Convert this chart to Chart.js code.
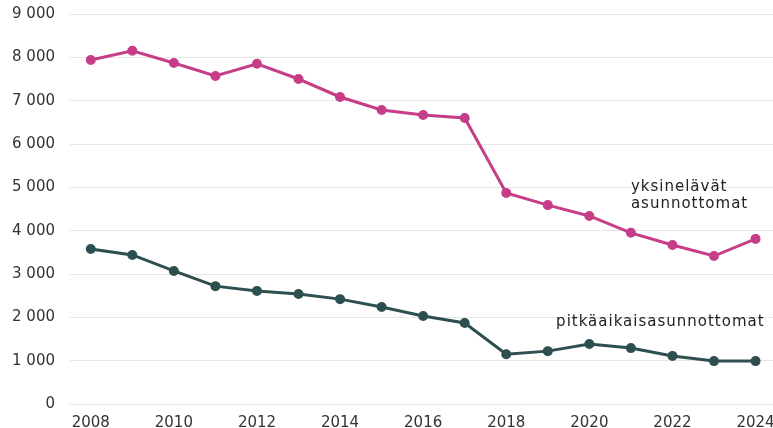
<!DOCTYPE html>
<html>
<head>
<meta charset="utf-8">
<script src="https://cdn.jsdelivr.net/npm/chart.js@4"></script>
<style>
html,body{margin:0;padding:0;background:#fff;}
#wrap{width:773px;height:428px;}
</style>
</head>
<body>
<div id="wrap"><canvas id="c" width="773" height="428"></canvas></div>
<script>
const years = [2008,2009,2010,2011,2012,2013,2014,2015,2016,2017,2018,2019,2020,2021,2022,2023,2024];
const yksinelavat = [7940,8150,7870,7570,7850,7500,7085,6785,6670,6600,4870,4590,4340,3950,3670,3415,3810];
const pitkaaikais = [3577,3440,3070,2720,2610,2540,2420,2240,2030,1870,1150,1220,1385,1290,1110,990,990];
const seriesNames = ['yksinelävät asunnottomat','pitkäaikaisasunnottomat'];
const labelsText = [['yksinelävät','asunnottomat'],['pitkäaikaisasunnottomat']];
const labelAnchors = [[2021.0,5010],[2019.2,1890]];

const pink = '#c63d88';
const dark = '#2e4f4f';
const FONT = '"DejaVu Sans", Verdana, sans-serif';

const labelPlugin = {
  id:'lbl',
  afterDatasetsDraw(chart){
    const {ctx, scales:{x,y}} = chart;
    ctx.save();
    ctx.font = '15px ' + FONT;
    try{ ctx.letterSpacing = '1px'; }catch(e){}
    ctx.fillStyle = '#222';
    ctx.textAlign = 'left';
    ctx.textBaseline = 'middle';
    labelsText.forEach((lines,i)=>{
      const px = x.getPixelForValue(labelAnchors[i][0]);
      const py = y.getPixelForValue(labelAnchors[i][1]);
      lines.forEach((t,j)=>ctx.fillText(t, px, py + j*17));
    });
    ctx.restore();
  }
};

new Chart(document.getElementById('c'),{
  type:'line',
  data:{
    datasets:[
      {label:seriesNames[0], data:years.map((yr,i)=>({x:yr,y:yksinelavat[i]})), borderColor:pink, backgroundColor:pink, borderWidth:3, pointRadius:3.5, pointHoverRadius:3.5, tension:0, clip:false},
      {label:seriesNames[1], data:years.map((yr,i)=>({x:yr,y:pitkaaikais[i]})), borderColor:dark, backgroundColor:dark, borderWidth:3, pointRadius:3.5, pointHoverRadius:3.5, tension:0, clip:false}
    ]
  },
  options:{
    responsive:false,
    animation:false,
    layout:{autoPadding:false,padding:{top:14,right:0,bottom:0,left:0}},
    plugins:{legend:{display:false},tooltip:{enabled:false}},
    scales:{
      x:{type:'linear',min:2007.5,max:2024.42,
        grid:{display:false,drawTicks:false,tickLength:0},border:{display:false},
        afterBuildTicks(ax){ax.ticks = years.filter(v=>v%2===0).map(v=>({value:v}));},
        afterFit(s){s.paddingLeft=0;s.paddingRight=0;s.height=24;},
        ticks:{color:'#333',font:{family:FONT,size:15},callback:v=>String(v),maxRotation:0,padding:10}
      },
      y:{min:0,max:9000,
        grid:{color:'#e6e6e6',lineWidth:1,drawTicks:false},border:{display:false},
        afterFit(s){s.paddingTop=0;s.paddingBottom=0;s.width=70;},
        ticks:{stepSize:1000,color:'#333',padding:15,font:{family:FONT,size:15},
          callback:v=>String(v).replace(/\B(?=(\d{3})+(?!\d))/g,' ')}
      }
    }
  },
  plugins:[labelPlugin]
});
</script>
</body>
</html>
